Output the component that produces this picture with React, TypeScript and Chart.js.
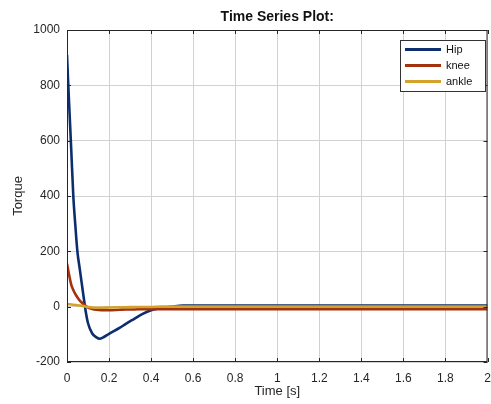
import React, { useEffect, useRef } from "react";
import { Chart, registerables } from "chart.js";

Chart.register(...registerables);

// Joint torque time series
const timeS = [0, 0.005, 0.01, 0.02, 0.03, 0.04, 0.05, 0.06, 0.07, 0.08, 0.085, 0.09, 0.1, 0.12, 0.14, 0.155, 0.17, 0.2, 0.25, 0.28, 0.32, 0.36, 0.4, 0.45, 0.5, 0.55, 0.6, 1.0, 1.5, 2.0];
const hipTorque = [910, 820, 735, 570, 400, 290, 195, 140, 85, 30, 3, -22, -60, -97, -111, -116, -112, -98, -77, -62, -44, -26, -13, -5, 0, 4, 4, 4, 4, 4];
const kneeTorque = [155, 135, 115, 80, 60, 45, 33, 23, 15, 8, 5, 2, -3, -8, -11, -12, -13, -13, -11, -10, -10, -9, -9, -9, -9, -9, -9, -9, -9, -9];
const ankleTorque = [10, 9, 9, 8, 7, 6, 5, 4, 3, 2, 1, 0, -1, -3, -4, -4, -4, -3, -2, -2, -1, -1, -1, 0, 0, 0, 0, 0, 0, 0];

const seriesNames = ["Hip", "knee", "ankle"];
const seriesColors = ["#0c2e6e", "#a3320f", "#d4a12b"];

const FONT = "'Liberation Sans', Arial, Helvetica, sans-serif";

const toPoints = (vals: number[]) => vals.map((v, i) => ({ x: timeS[i], y: v }));
const plainNumber = (v: number | string) => String(Number(Number(v).toFixed(2)));

// Black box around the plot with short inward tick marks on every side
const boxPlugin = {
  id: "axesBox",
  afterDatasetsDraw(chart: any) {
    const { ctx, chartArea: a, scales } = chart;
    ctx.save();
    ctx.strokeStyle = "#262626";
    ctx.lineWidth = 1;
    ctx.strokeRect(a.left + 0.5, a.top + 0.5, a.right - a.left - 1, a.bottom - a.top - 1);
    const tl = 4;
    ctx.beginPath();
    scales.x.ticks.forEach((t: any) => {
      const px = Math.round(scales.x.getPixelForValue(t.value)) + 0.5;
      ctx.moveTo(px, a.bottom);
      ctx.lineTo(px, a.bottom - tl);
      ctx.moveTo(px, a.top);
      ctx.lineTo(px, a.top + tl);
    });
    scales.y.ticks.forEach((t: any) => {
      const py = Math.round(scales.y.getPixelForValue(t.value)) + 0.5;
      ctx.moveTo(a.left, py);
      ctx.lineTo(a.left + tl, py);
      ctx.moveTo(a.right, py);
      ctx.lineTo(a.right - tl, py);
    });
    ctx.stroke();
    ctx.restore();
  },
};

// Boxed legend in the upper-right corner of the plot
const legendPlugin = {
  id: "boxLegend",
  afterDraw(chart: any) {
    const { ctx, chartArea: a } = chart;
    const w = 86;
    const h = 52;
    const x0 = a.right - w - 1.5;
    const y0 = a.top + 10;
    ctx.save();
    ctx.fillStyle = "#ffffff";
    ctx.fillRect(x0, y0, w, h);
    ctx.strokeStyle = "#333333";
    ctx.lineWidth = 1;
    ctx.strokeRect(x0 + 0.5, y0 + 0.5, w - 1, h - 1);
    ctx.font = `11px ${FONT}`;
    ctx.textBaseline = "middle";
    ctx.textAlign = "left";
    seriesNames.forEach((name, i) => {
      const y = y0 + 9.5 + i * 16;
      ctx.strokeStyle = seriesColors[i];
      ctx.lineWidth = 3;
      ctx.beginPath();
      ctx.moveTo(x0 + 5, y);
      ctx.lineTo(x0 + 41, y);
      ctx.stroke();
      ctx.fillStyle = "#111111";
      ctx.fillText(name, x0 + 46, y);
    });
    ctx.restore();
  },
};

export default function App() {
  const ref = useRef<HTMLCanvasElement | null>(null);

  useEffect(() => {
    if (!ref.current) return;
    const datasets = [hipTorque, kneeTorque, ankleTorque].map((vals, i) => ({
      label: seriesNames[i],
      data: toPoints(vals),
      borderColor: seriesColors[i],
      backgroundColor: seriesColors[i],
      borderWidth: 2.6,
      pointRadius: 0,
      cubicInterpolationMode: "monotone" as const,
      order: 2 - i,
    }));
    const chart = new Chart(ref.current, {
      type: "line",
      data: { datasets },
      plugins: [boxPlugin, legendPlugin],
      options: {
        responsive: false,
        animation: false,
        layout: { padding: { left: 0, right: 3.5, top: 0, bottom: 0 } },
        plugins: {
          legend: { display: false },
          tooltip: { enabled: false },
          title: {
            display: true,
            text: "Time Series Plot:",
            fullSize: false,
            color: "#111111",
            font: { family: FONT, size: 14, weight: "bold", lineHeight: 1.2 },
            padding: { top: 9, bottom: 4.2 },
          },
        },
        scales: {
          x: {
            type: "linear",
            min: 0,
            max: 2,
            ticks: {
              stepSize: 0.2,
              color: "#262626",
              font: { family: FONT, size: 12 },
              padding: 9,
              maxRotation: 0,
              callback: (v: number | string) => plainNumber(v),
            },
            grid: { color: "#d2d2d2", drawTicks: false },
            border: { display: false },
            title: {
              display: true,
              text: "Time [s]",
              color: "#262626",
              font: { family: FONT, size: 13 },
              padding: { top: 0, bottom: 5 },
            },
            afterFit(scale: any) {
              scale.height = 42;
              scale.paddingLeft = 0;
              scale.paddingRight = 0;
            },
          },
          y: {
            min: -200,
            max: 1000,
            ticks: {
              stepSize: 200,
              color: "#262626",
              font: { family: FONT, size: 12 },
              padding: 7,
              callback: (v: number | string) => plainNumber(v),
            },
            grid: { color: "#d2d2d2", drawTicks: false },
            border: { display: false },
            title: {
              display: true,
              text: "Torque",
              color: "#262626",
              font: { family: FONT, size: 13 },
              padding: { top: 11, bottom: 0 },
            },
            afterFit(scale: any) {
              scale.width = 67;
              scale.paddingTop = 0;
              scale.paddingBottom = 0;
            },
          },
        },
      },
    });
    return () => chart.destroy();
  }, []);

  return (
    <div style={{ position: "fixed", left: 0, top: 0, width: 491, height: 404, background: "#ffffff" }}>
      <canvas ref={ref} width={491} height={404} />
    </div>
  );
}
